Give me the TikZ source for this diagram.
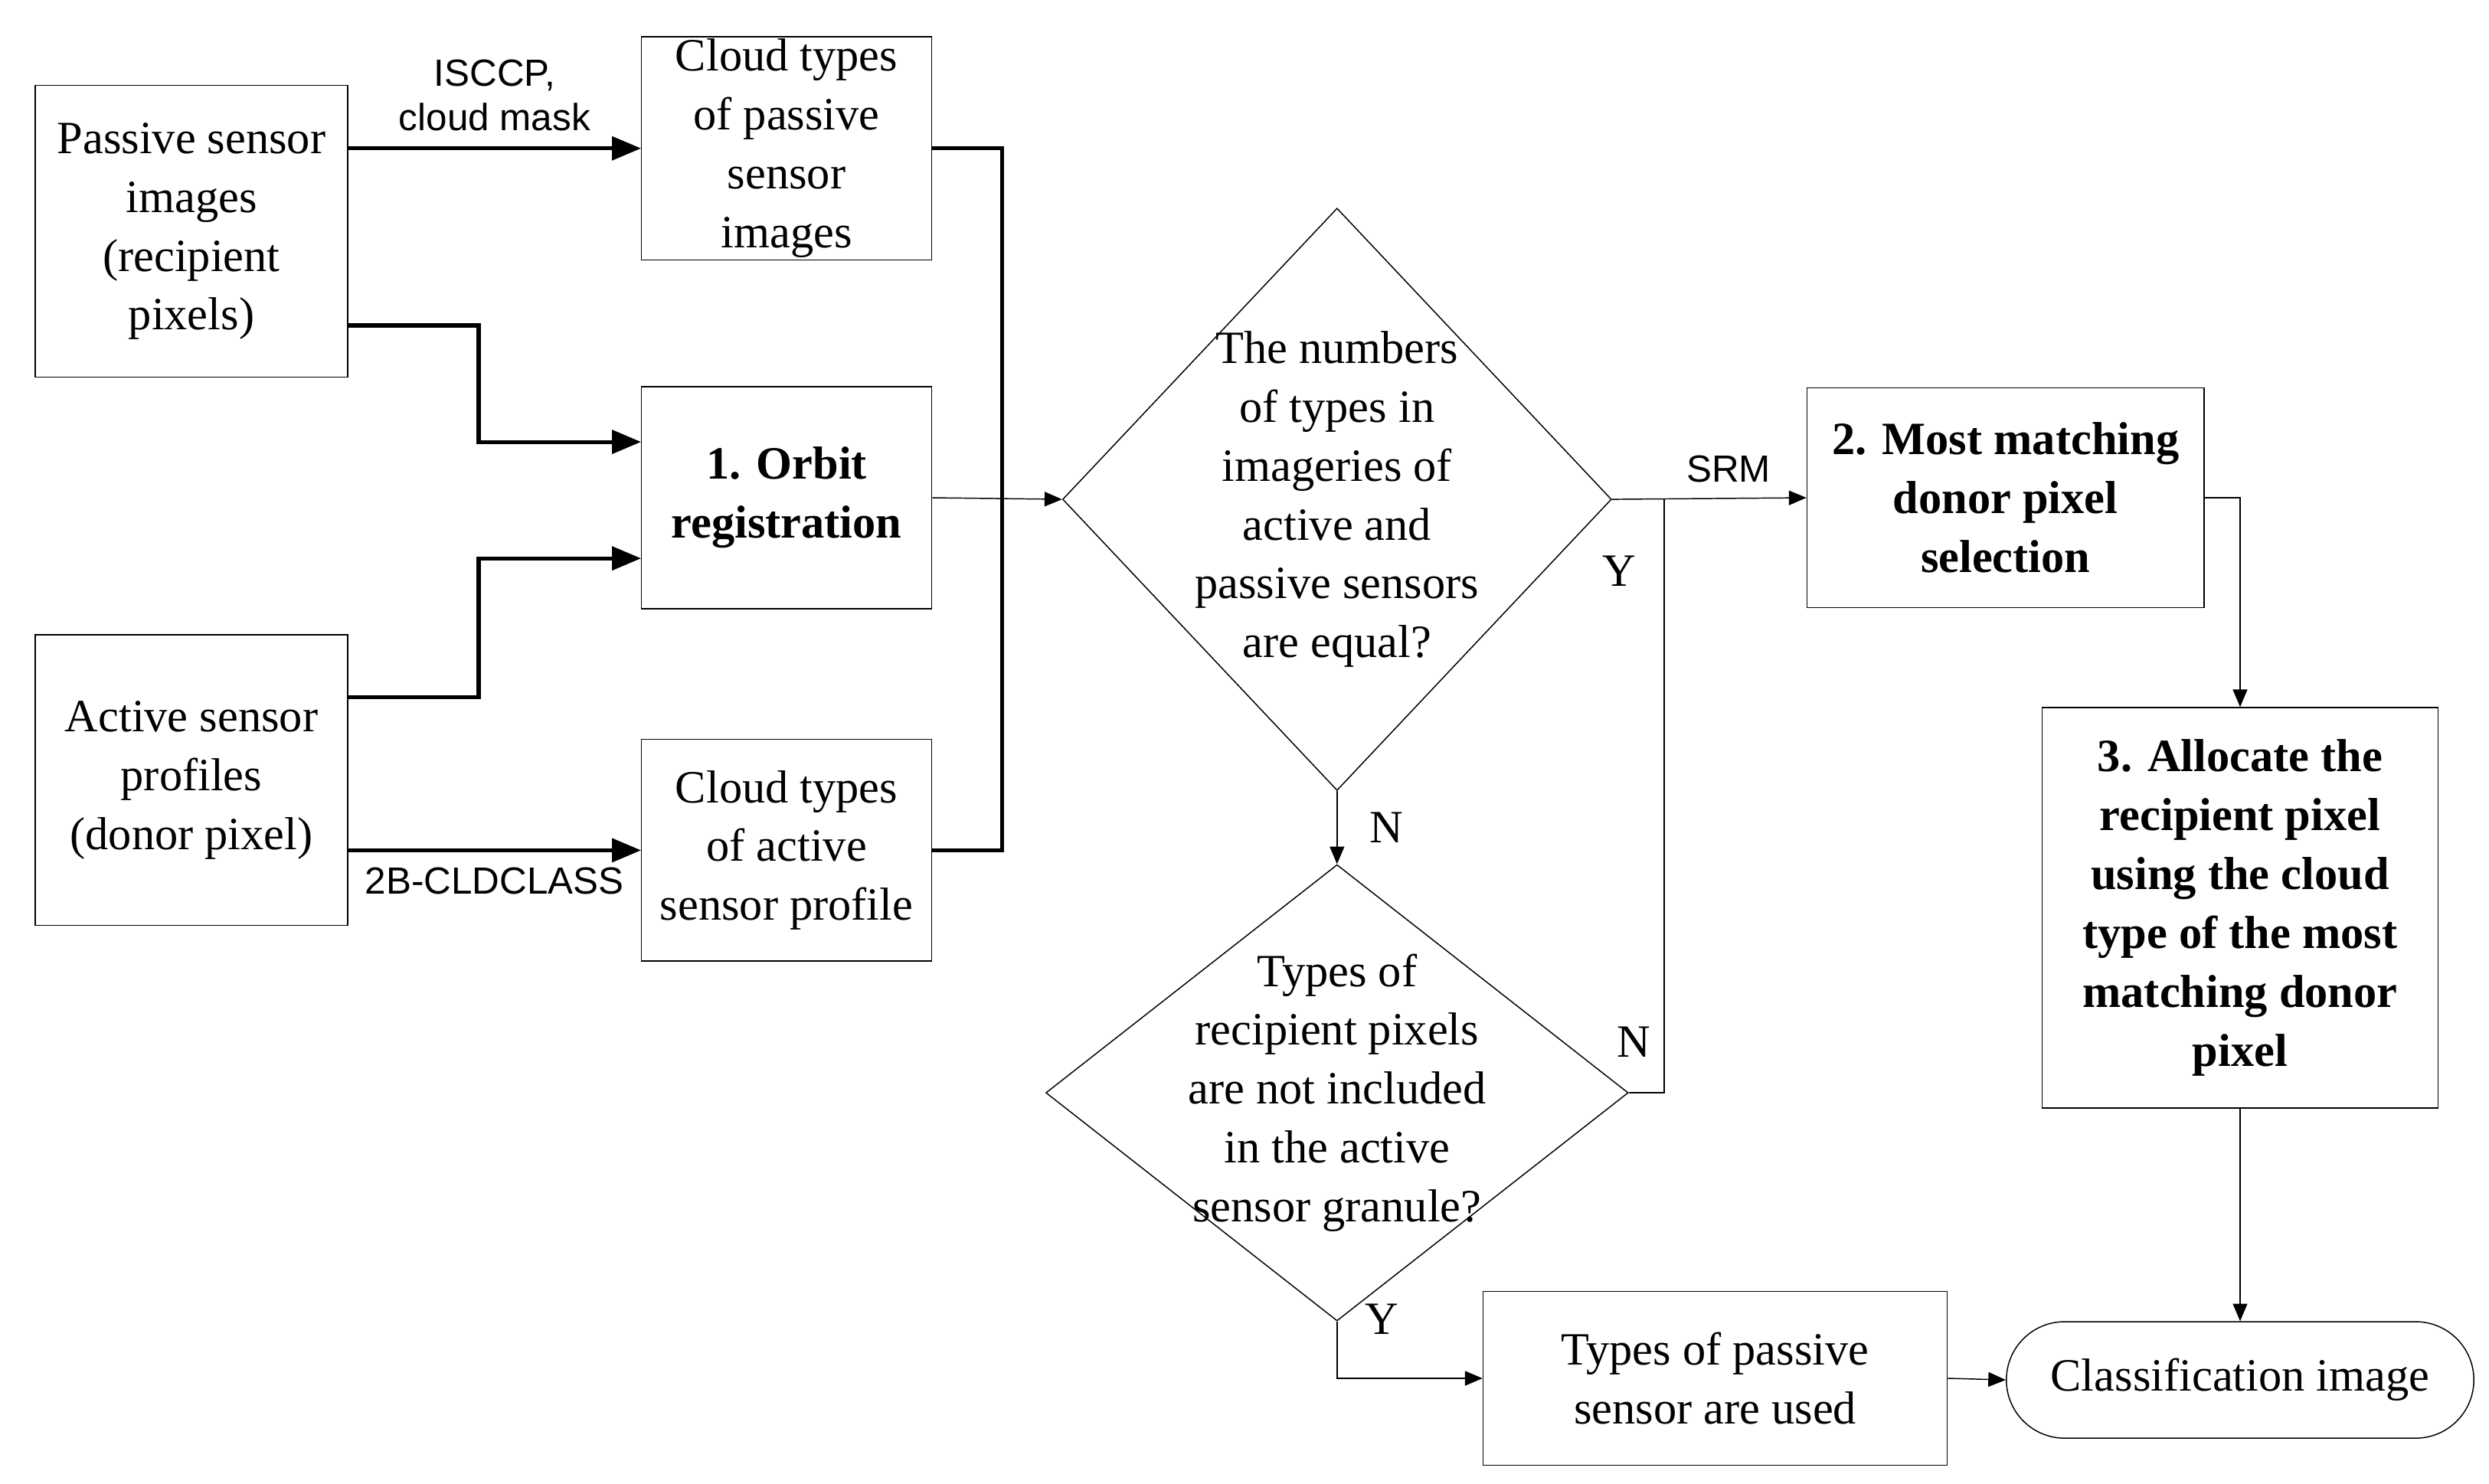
\documentclass[tikz,border=0pt]{standalone}
\usepackage{fontspec}
\setmainfont{Liberation Serif}
\newfontfamily\labelfont{Liberation Sans}
\usetikzlibrary{shapes,arrows,positioning}
\newdimen\pu \pu=0.02cm
\begin{document}
\fontsize{16.5}{21}\selectfont
\begin{tikzpicture}[x=0.02cm,y=-0.02cm,>=triangle 45,
  box/.style={draw,thin,align=center,inner sep=0pt},
  lab/.style={font=\labelfont\fontsize{13.5}{16}\selectfont,align=center},
  yn/.style={font=\fontsize{16.5}{20}\selectfont},
  thickline/.style={line width=1.4pt}]
\useasboundingbox (0,0) rectangle (1560,930);
\node[box,minimum width=196\pu,minimum height=183\pu] (passive) at (120,145) {Passive sensor\\images\\(recipient\\pixels)};
\node[box,minimum width=182\pu,minimum height=140\pu] (ctpass) at (493,93) {Cloud types\\of passive\\sensor\\images};
\node[box,minimum width=182\pu,minimum height=139\pu,font=\bfseries] (orbit) at (493,312) {1. Orbit\\registration};
\node[box,minimum width=196\pu,minimum height=182\pu] (active) at (120,489) {Active sensor\\profiles\\(donor pixel)};
\node[box,minimum width=182\pu,minimum height=139\pu] (ctact) at (493,533) {Cloud types\\of active\\sensor profile};
\node[draw,thin,diamond,minimum width=344\pu,minimum height=365\pu,inner sep=0pt] (equal) at (838,313) {};
\node[align=center] at (equal) {The numbers\\of types in\\imageries of\\active and\\passive sensors\\are equal?};
\node[draw,thin,diamond,minimum width=365\pu,minimum height=286\pu,inner sep=0pt] (incl) at (838,685) {};
\node[align=center] at (incl) {Types of\\recipient pixels\\are not included\\in the active\\sensor granule?};
\node[box,minimum width=249\pu,minimum height=138\pu,font=\bfseries] (match) at (1257,312) {2. Most matching\\donor pixel\\selection};
\node[box,minimum width=248\pu,minimum height=251\pu,font=\bfseries] (alloc) at (1404,569) {3. Allocate the\\recipient pixel\\using the cloud\\type of the most\\matching donor\\pixel};
\node[box,minimum width=291\pu,minimum height=109\pu] (used) at (1075,864) {Types of passive\\sensor are used};
\node[draw,thin,rounded rectangle,minimum width=293\pu,minimum height=73\pu,inner sep=0pt] (classimg) at (1404,865) {Classification image};
% thick inputs
\draw[thickline,->] (passive.east |- 0,93) -- node[lab,above]{ISCCP,\\cloud mask} (ctpass.west |- 0,93);
\draw[thickline,->] (passive.east |- 0,204) -| (300,277) -- (orbit.west |- 0,277);
\draw[thickline,->] (active.east |- 0,437) -| (300,350) -- (orbit.west |- 0,350);
\draw[thickline,->] (active.east |- 0,533) -- node[lab,below]{2B-CLDCLASS} (ctact.west);
\draw[thickline] (ctpass.east) -- (628,93) -- (628,533) -- (ctact.east);
% decisions
\draw[thin,->] (orbit.east) -- (equal.west);
\draw[thin,->] (equal.east) -- node[lab,above,pos=0.6]{SRM} (match.west);
\node[yn] at (1015,358) {Y};
\draw[thin,->] (equal.south) -- node[yn,right,xshift=6pt]{N} (incl.north);
\draw[thin] (incl.east) -- (1043,685) -- (1043,313);
\node[yn] at (1024,653) {N};
\draw[thin,->] (incl.south) |- node[yn,pos=0.4,above,xshift=16pt,yshift=6pt]{Y} (used.west);
\draw[thin,->] (match.east) -| (alloc.north);
\draw[thin,->] (alloc.south) -- (classimg.north);
\draw[thin,->] (used.east) -- (classimg.west);
\end{tikzpicture}
\end{document}
